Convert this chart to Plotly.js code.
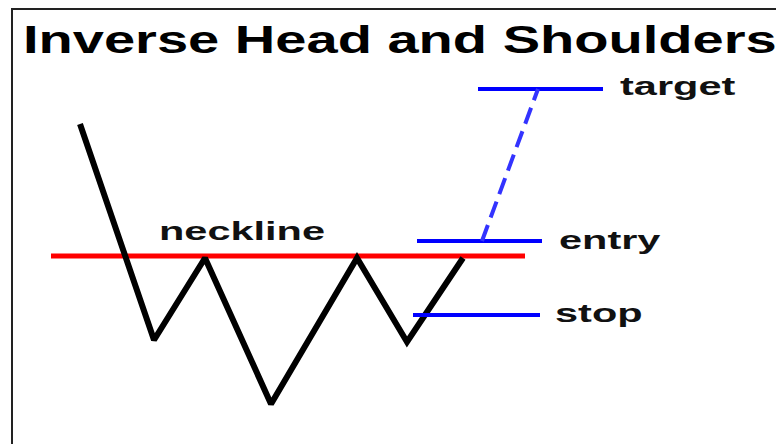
<!DOCTYPE html>
<html>
<head>
<meta charset="utf-8">
<script src="https://cdn.plot.ly/plotly-3.0.1.min.js"></script>
<style>
html,body{margin:0;padding:0;background:#fff;}
#chart{width:776px;height:444px;}
</style>
</head>
<body>
<div id="chart"></div>
<script>
// price path (time index, price)
const pathX = [20, 38.5, 51.25, 67.75, 89.25, 101.75, 115.75];
const pathY = [80, 26, 46.5, 10, 46.5, 25.5, 46.5];

// neckline
const necklineLevel = 47;
const necklineX = [12.75, 131.25];

// trade levels
const levelNames = ['target', 'entry', 'stop'];
const levelPrices = [88.75, 50.75, 32.25];
const levelStartX = [119.5, 104.25, 103.25];
const levelEndX = [150.75, 135.5, 135];

// projected move (entry -> target)
const projX = [120.5, 134.5];
const projY = [50.75, 88.75];

// label anchors
const labelX = [154.5, 139.25, 138.25];
const labelY = [89.5, 51.0, 32.7];
const necklineLabel = 'neckline';
const necklineLabelX = 39.25;
const necklineLabelY = 53.2;

const titleText = 'Inverse Head and Shoulders';

const traces = [];
traces.push({
  x: necklineX, y: [necklineLevel, necklineLevel], mode: 'lines',
  line: {color: '#ff0000', width: 5}, hoverinfo: 'skip'
});
traces.push({
  x: pathX, y: pathY, mode: 'lines',
  line: {color: '#000000', width: 6}, hoverinfo: 'skip'
});
levelNames.forEach((n, i) => {
  traces.push({
    x: [levelStartX[i], levelEndX[i]], y: [levelPrices[i], levelPrices[i]], mode: 'lines',
    line: {color: '#0000ff', width: 4}, hoverinfo: 'skip'
  });
});
traces.push({
  x: projX, y: projY, mode: 'lines',
  line: {color: '#3333ff', width: 4, dash: '17px,8px'}, hoverinfo: 'skip'
});

const labelFont = {family: 'Liberation Sans, Arial, sans-serif', size: 25, color: '#111111', weight: 'bold'};
const annotations = levelNames.map((n, i) => ({
  x: labelX[i], y: labelY[i], xref: 'x', yref: 'y', text: n,
  showarrow: false, xanchor: 'left', yanchor: 'middle', font: labelFont
}));
annotations.push({
  x: necklineLabelX, y: necklineLabelY, xref: 'x', yref: 'y', text: necklineLabel,
  showarrow: false, xanchor: 'left', yanchor: 'middle', font: labelFont
});

const layout = {
  width: 776, height: 444,
  margin: {l: 0, r: 0, t: 0, b: 0},
  paper_bgcolor: '#ffffff', plot_bgcolor: '#ffffff',
  showlegend: false,
  title: {
    text: titleText, x: 23/776, xanchor: 'left', xref: 'paper',
    y: 1 - 40/444, yanchor: 'middle', yref: 'container',
    font: {family: 'Liberation Sans, Arial, sans-serif', size: 38, color: '#000000', weight: 'bold'}
  },
  xaxis: {range: [0, 194], visible: false, fixedrange: true},
  yaxis: {range: [0, 111], visible: false, fixedrange: true},
  shapes: [{
    type: 'rect', xref: 'paper', yref: 'paper',
    x0: 12/776, x1: 1.02, y0: -0.02, y1: 1 - 9/444,
    line: {color: '#222222', width: 2}, fillcolor: 'rgba(0,0,0,0)', layer: 'above'
  }],
  annotations: annotations
};

Plotly.newPlot('chart', traces, layout, {staticPlot: true, displayModeBar: false}).then(() => {
  document.querySelectorAll('.gtitle').forEach(el => {
    el.style.transformBox = 'fill-box';
    el.style.transformOrigin = '0% 50%';
    el.style.transform = 'scaleX(1.475)';
  });
  document.querySelectorAll('.annotation-text').forEach(el => {
    el.style.transformBox = 'fill-box';
    el.style.transformOrigin = '0% 50%';
    el.style.transform = 'scaleX(1.66)';
  });
});
</script>
</body>
</html>
